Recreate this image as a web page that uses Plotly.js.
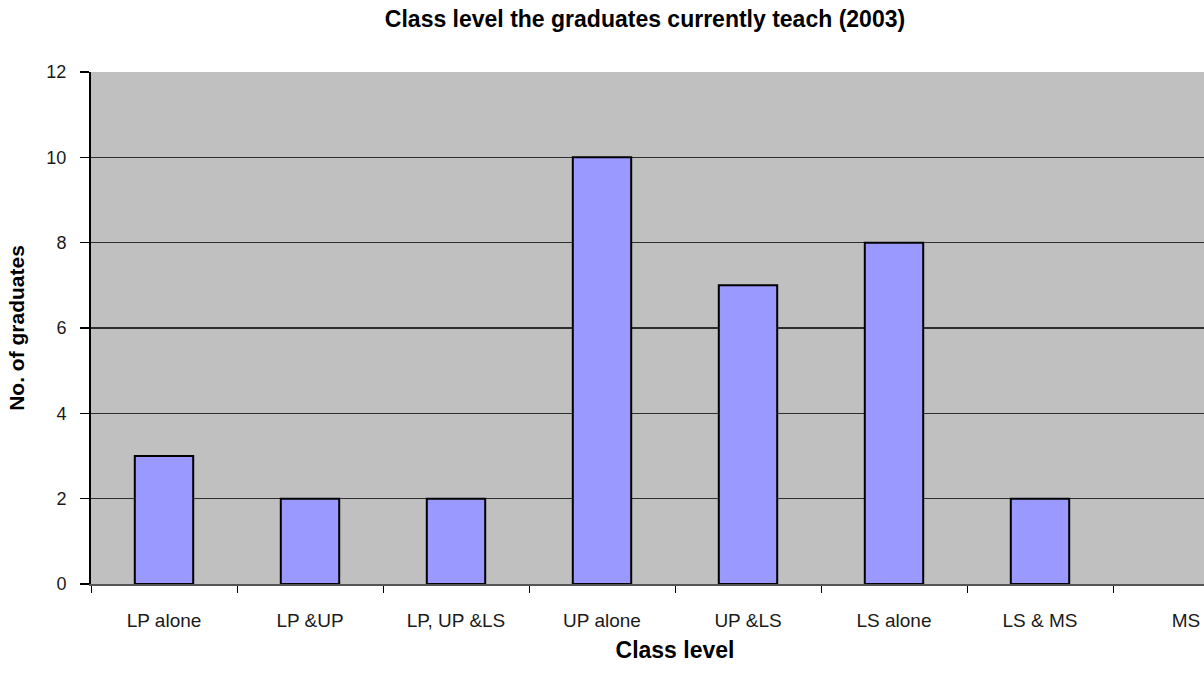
<!DOCTYPE html>
<html>
<head>
<meta charset="utf-8">
<script src="https://cdn.plot.ly/plotly-3.0.1.min.js"></script>
<style>
html,body{margin:0;padding:0;overflow:hidden;background:#fff;}
#chart{width:1290px;height:673px;}
</style>
</head>
<body>
<div id="chart"></div>
<script>
const categories = ["LP alone", "LP &UP", "LP, UP &LS", "UP alone", "UP &LS", "LS alone", "LS & MS", "MS"];
const graduates = [3, 2, 2, 10, 7, 8, 2, 0];
const yTicks = [0, 2, 4, 6, 8, 10, 12];

const font = "Liberation Sans, Arial, sans-serif";

const trace = {
  type: "bar",
  x: categories,
  y: graduates,
  marker: {color: "#9999FF", line: {color: "#000000", width: graduates.map(v => v > 0 ? 2 : 0)}},
  hoverinfo: "x+y"
};

const layout = {
  width: 1290,
  height: 673,
  margin: {l: 91, r: 31, t: 72, b: 89},
  paper_bgcolor: "#ffffff",
  plot_bgcolor: "#C0C0C0",
  bargap: 0.6,
  showlegend: false,
  font: {family: font, color: "#111"},
  title: {
    text: "<b>Class level the graduates currently teach (2003)</b>",
    font: {family: font, size: 23, color: "#000"},
    x: 0.5, xref: "container", xanchor: "center",
    y: 1 - 19/673, yref: "container", yanchor: "middle"
  },
  xaxis: {
    type: "category",
    range: [-0.5, 7.5],
    tickson: "boundaries",
    ticks: "outside",
    ticklen: 7,
    tickwidth: 1,
    tickcolor: "#000",
    ticklabelstandoff: 18,
    showline: true,
    linecolor: "#555",
    linewidth: 2,
    showgrid: false,
    zeroline: false,
    tickfont: {family: font, size: 19, color: "#1a1a1a"},
    title: {text: "<b>Class level</b>", font: {family: font, size: 23, color: "#000"}, standoff: 12},
    fixedrange: true
  },
  yaxis: {
    range: [0, 12],
    tickvals: yTicks,
    ticktext: yTicks.map(String),
    ticks: "outside",
    ticklen: 9,
    tickwidth: 1.5,
    tickcolor: "#000",
    ticklabelstandoff: 10,
    showline: true,
    linecolor: "#000",
    linewidth: 2,
    showgrid: true,
    gridcolor: "#2e2e2e",
    gridwidth: 1.5,
    zeroline: false,
    tickfont: {family: font, size: 18, color: "#1a1a1a"},
    title: {text: "<b>No. of graduates</b>", font: {family: font, size: 21, color: "#000"}, standoff: 16},
    fixedrange: true
  }
};

Plotly.newPlot("chart", [trace], layout, {displayModeBar: false, staticPlot: true});
</script>
</body>
</html>
